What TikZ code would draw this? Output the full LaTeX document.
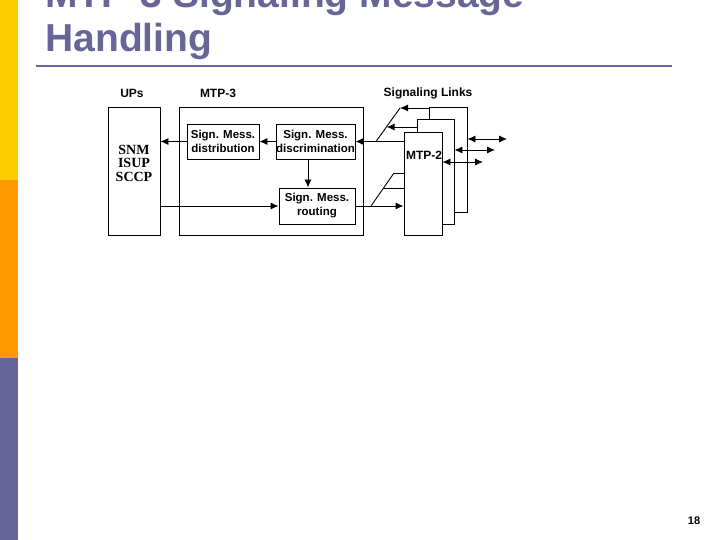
\documentclass[tikz,border=0pt]{standalone}
\usepackage{fontspec}
\setmainfont{Liberation Sans}
\newfontfamily\serifup{Liberation Serif}
\usepackage{tikz}
\usetikzlibrary{arrows.meta}
\definecolor{slate}{RGB}{102,102,153}
\definecolor{baryellow}{RGB}{255,204,0}
\definecolor{barorange}{RGB}{255,153,0}
\tikzset{box/.style = {draw, fill=white, inner sep=0, align=center,
                       font=\fontsize{11.5}{14}\selectfont\bfseries}}
\tikzset{lbl/.style = {inner sep=0, font=\fontsize{12}{14}\selectfont\bfseries}}
\tikzset{sig/.style = {-{Latex[length=8pt, width=7pt]}}}
\tikzset{sigb/.style = {{Latex[length=8pt, width=7pt]}-{Latex[length=8pt, width=7pt]}}}

\begin{document}
\begin{tikzpicture}[x=1pt, y=-1pt, line width=0.9pt]
      \useasboundingbox (0,0) rectangle (720,540);
      \clip (0,0) rectangle (720,540);

      \fill [baryellow] (0,0) rectangle (18,180);
      \fill [barorange] (0,180) rectangle (18,358);
      \fill [slate] (0,358) rectangle (18,540);

      \node [anchor=base west, align=left, inner sep=0, text=slate,
             font=\fontsize{39}{44}\selectfont\bfseries] (title) at (45,52) {MTP-3 Signaling Message\\Handling};
      \draw [slate, line width=2.5pt] (36,66) -- (672,66);

      \node [lbl] (upslbl) at (132,93) {UPs};
      \node [lbl] (mtp3lbl) at (218,93) {MTP-3};
      \node [lbl] (linkslbl) at (428,93) {Signaling Links};

      \node [box, minimum width=52pt, minimum height=128pt] (ups) at (134,171) {};
      \node [inner sep=0, align=center, font=\serifup\fontsize{14}{13.5}\selectfont\bfseries] (upstext) at (134,163) {SNM\\ISUP\\SCCP};

      \node [box, minimum width=184pt, minimum height=128pt] (mtp3) at (271,171) {};
      \node [box, minimum width=72pt, minimum height=35pt] (dist) at (223,141.5) {Sign. Mess.\\distribution};
      \node [box, minimum width=79pt, minimum height=35pt] (disc) at (315.5,141.5) {Sign. Mess.\\discrimination};
      \node [box, minimum width=76pt, minimum height=36pt] (rout) at (317,206) {Sign. Mess.\\routing};

      \node [box, minimum width=38pt, minimum height=105pt] (back) at (448,159.5) {};
      \node [box, minimum width=37pt, minimum height=105pt] (middle) at (435.5,171.5) {};
      \node [box, minimum width=38pt, minimum height=103pt] (front) at (423,183.5) {};

      \draw [sig] (dist.west) -- (dist.west -| ups.east);
      \draw [sig] (disc.west) -- (disc.west -| dist.east);
      \draw [sig] (disc.east -| front.west) -- (disc.east);
      \draw [sig] ([xshift=-7.5pt]disc.south) -- ([xshift=-7.5pt]disc.south |- rout.north);
      \draw [sig] (ups.east |- rout.west) -- (rout.west);
      \draw [sig] (rout.east) -- (rout.east -| front.west);

      \coordinate (fanA) at (376,141.5);
      \coordinate (fanB) at (400,108);
      \coordinate (fanC) at (386.6,127);
      \draw (fanA) -- (fanB);
      \draw [sig] (fanB -| back.west) -- (fanB);
      \draw [sig] (fanC -| middle.west) -- (fanC);

      \coordinate (fanD) at (371,206);
      \coordinate (fanE) at (394,173);
      \coordinate (fanF) at (383.8,188);
      \draw (fanD) -- (fanE);
      \draw (fanE) -- (fanE -| front.west);
      \draw (fanF) -- (fanF -| front.west);

      \coordinate (linkA) at (507,139);
      \coordinate (linkB) at (495,150);
      \coordinate (linkC) at (483,162);
      \draw [sigb] (linkA -| back.east) -- (linkA);
      \draw [sigb] (linkB -| middle.east) -- (linkB);
      \draw [sigb] (linkC -| front.east) -- (linkC);

      \node [lbl] (mtp2lbl) at (424,155) {MTP-2};

      \node [inner sep=0, font=\fontsize{11}{13}\selectfont\bfseries] (pagenum) at (694,521) {18};
    \end{tikzpicture}
\end{document}
